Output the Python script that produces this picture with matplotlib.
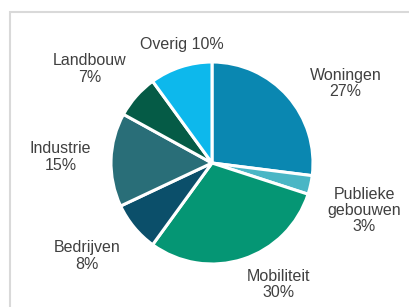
import matplotlib
matplotlib.use("Agg")
import matplotlib.pyplot as plt
from matplotlib.patches import Rectangle

plt.rcParams['font.family'] = ['Liberation Sans', 'DejaVu Sans']

categories = ['Woningen', 'Publieke\ngebouwen', 'Mobiliteit', 'Bedrijven',
              'Industrie', 'Landbouw', 'Overig']
shares = [27, 3, 30, 8, 15, 7, 10]
colors = ['#0A87B1', '#4AB6C5', '#059674', '#0B4F6A',
          '#296E78', '#055B46', '#0DB8EC']

# label placement (layout only), in units of pie radius
label_pos = [(1.32, 0.79), (1.51, -0.47), (0.66, -1.20), (-1.24, -0.92),
             (-1.50, 0.06), (-1.21, 0.93), (-0.30, 1.17)]

fig = plt.figure(figsize=(4.09, 3.07), dpi=100)
ax = fig.add_axes([0, 0, 1, 1])
ax.pie(shares, colors=colors, startangle=90, counterclock=False,
       radius=1.0, wedgeprops=dict(edgecolor='white', linewidth=2.2))

for cat, val, (x, y) in zip(categories, shares, label_pos):
    if cat == 'Overig':
        txt = f'{cat} {val}%'
    else:
        txt = f'{cat}\n{val}%'
    ax.text(x, y, txt, ha='center', va='center', fontsize=11.5,
            color='#404040', linespacing=1.1)

r = 101.0
ax.set_xlim(-212 / r, (409 - 212) / r)
ax.set_ylim(-(307 - 163) / r, 163 / r)
ax.axis('off')

# chart border (light gray, runs off the right and bottom)
fig.add_artist(Rectangle((10 / 409, -0.1), 1.2, 1.1 - 12 / 307,
                         transform=fig.transFigure, fill=False,
                         edgecolor='#D9D9D9', linewidth=1.5))

fig.savefig('out.png', dpi=100)
